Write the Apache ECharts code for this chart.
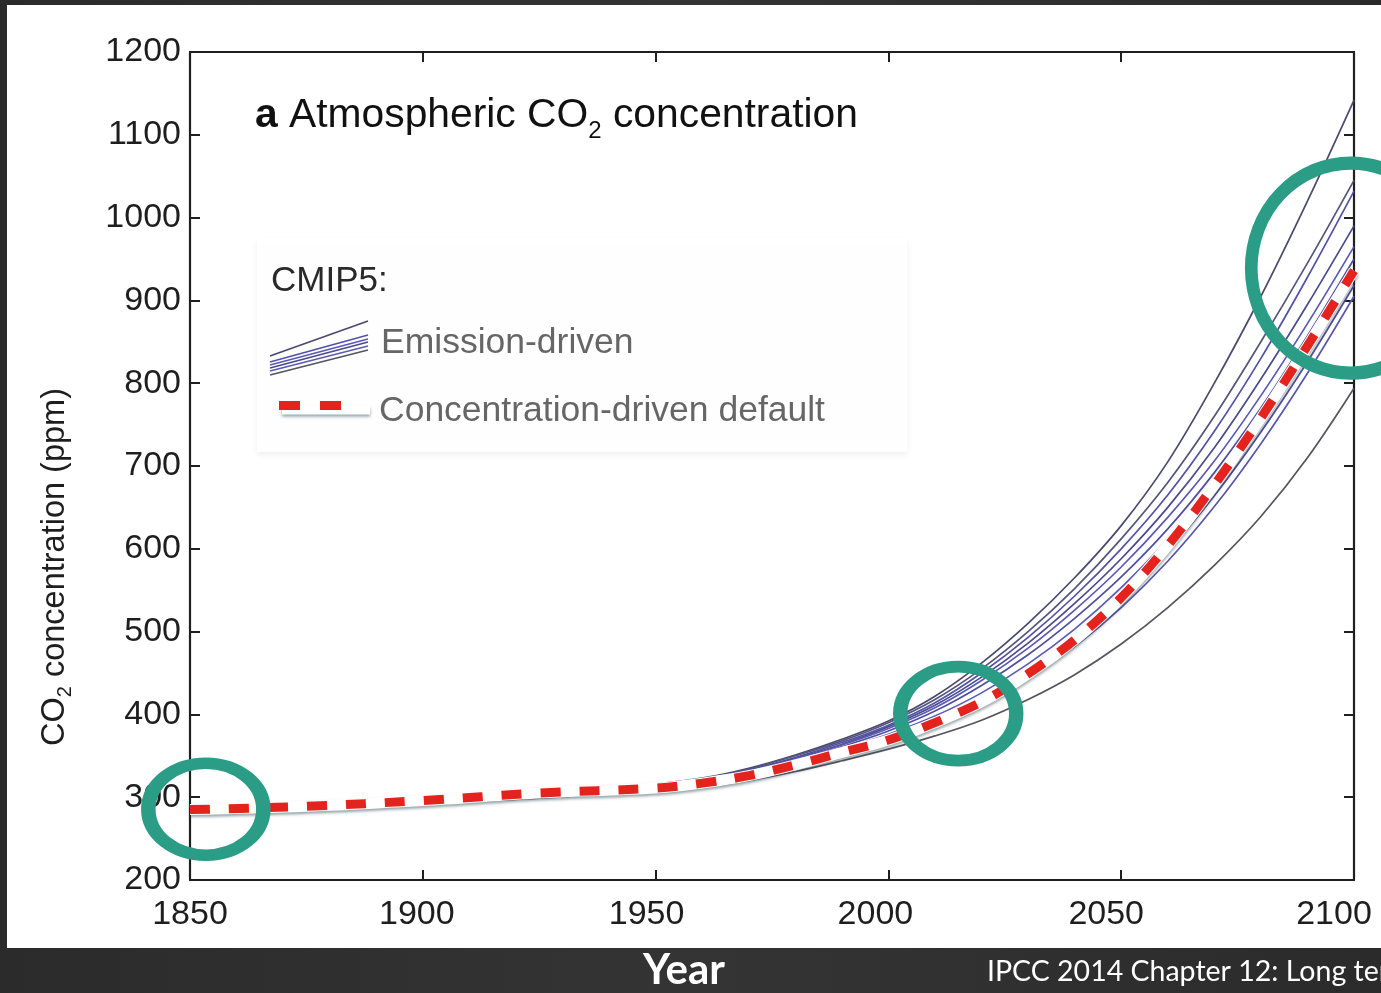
<!DOCTYPE html>
<html>
<head>
<meta charset="utf-8">
<title>Atmospheric CO2 concentration</title>
<script src="https://cdn.jsdelivr.net/npm/echarts@6/dist/echarts.min.js"></script>
<style>
  html, body { margin: 0; padding: 0; width: 1381px; height: 993px; overflow: hidden;
    background: linear-gradient(90deg, #2b2b2b, #343434 50%, #2b2b2b); }
  #panel { position: absolute; left: 7px; top: 5px; width: 1374px; height: 943px; background: #ffffff; }
  #chart { position: absolute; left: 0; top: 0; width: 1381px; height: 993px; }
</style>
</head>
<body>
<div id="panel"></div>
<div id="chart"></div>
<script>
// Years at which the curves are sampled
const years = [1850, 1875, 1900, 1925, 1950, 1960, 1970, 1980, 1990, 2000,
               2010, 2020, 2030, 2040, 2050, 2060, 2070, 2080, 2090, 2100];

// Concentration-driven default (ppm)
const concDefault = [285, 289, 296, 305, 311, 317, 326, 339, 354, 369,
                     390, 415, 449, 490, 541, 604, 677, 758, 845, 936];

// CMIP5 emission-driven model runs (ppm)
const emis01 = [284, 288, 294, 303, 316, 323, 335, 351, 370, 392, 422, 462, 510, 565, 628, 705, 800, 905, 1020, 1142];
const emis02 = [284, 288, 294, 303, 315, 322, 334, 350, 368, 390, 418, 455, 500, 552, 612, 680, 760, 850, 945, 1045];
const emis03 = [285, 289, 295, 304, 315, 322, 333, 348, 366, 387, 414, 450, 493, 543, 600, 665, 742, 830, 928, 1032];
const emis04 = [285, 289, 295, 304, 314, 321, 332, 347, 364, 385, 411, 445, 486, 534, 588, 650, 722, 805, 895, 990];
const emis05 = [285, 289, 295, 304, 314, 320, 331, 346, 363, 383, 408, 441, 480, 526, 578, 638, 706, 785, 872, 965];
const emis06 = [284, 288, 294, 303, 313, 319, 330, 344, 361, 380, 404, 435, 472, 516, 566, 624, 692, 770, 857, 950];
const emis07 = [284, 288, 294, 302, 312, 318, 328, 342, 358, 376, 398, 426, 461, 503, 553, 611, 678, 755, 840, 930];
const emis08 = [283, 287, 293, 301, 311, 317, 326, 340, 355, 371, 392, 418, 451, 492, 540, 597, 664, 741, 826, 918];
const emis09 = [283, 287, 292, 300, 309, 315, 324, 337, 352, 367, 386, 411, 443, 482, 529, 585, 651, 727, 812, 905];
const emis10 = [284, 287, 292, 299, 307, 312, 320, 331, 344, 358, 374, 393, 418, 448, 485, 529, 580, 639, 710, 794];
const emissionRuns = [emis01, emis02, emis03, emis04, emis05, emis06, emis07, emis08, emis09, emis10];

// Highlight rings: [year, ppm]
const ringYears = [1853.4, 2015.0, 2099.3];
const ringValues = [285.5, 401, 939];

// Axis ticks
const xTicks = [1850, 1900, 1950, 2000, 2050, 2100];
const yTicks = [200, 300, 400, 500, 600, 700, 800, 900, 1000, 1100, 1200];

const FONT = '"Liberation Sans", Arial, Helvetica, sans-serif';
const runColors = ['#4a4a6e', '#55557a', '#5252a8', '#4b4b8c', '#5a5ab4',
                   '#5050a0', '#5c5cb8', '#4e4e96', '#5858a8', '#55555f'];

const toPairs = (vals) => years.map((y, i) => [y, vals[i]]);

const series = emissionRuns.map((run, i) => ({
  type: 'line', data: toPairs(run), smooth: 0.35, showSymbol: false, silent: true,
  lineStyle: { color: runColors[i], width: 1.7 }, z: 3
}));

// white band under the red dashes
series.push({
  type: 'line', data: toPairs(concDefault), smooth: 0.35, showSymbol: false, silent: true,
  lineStyle: { color: '#ffffff', width: 11, shadowColor: 'rgba(40,70,80,0.5)', shadowBlur: 3, shadowOffsetY: 2 },
  z: 4
});
series.push({
  type: 'line', data: toPairs(concDefault), smooth: 0.35, showSymbol: false, silent: true,
  lineStyle: { color: '#e3231d', width: 9, type: [20, 19], cap: 'butt' },
  z: 5
});

// highlight rings
const ringSizes = [[115, 92], [116, 94], [199, 210]];
series.push({
  type: 'scatter', silent: true, z: 10,
  data: ringYears.map((y, i) => ({ value: [y, ringValues[i]], symbolSize: ringSizes[i] })),
  symbol: 'circle',
  itemStyle: { color: 'rgba(0,0,0,0)', borderColor: '#2b9c85', borderWidth: 13, opacity: 1 }
});

// per-label horizontal nudges of the year labels
const xLabelShift = { 1850: 0, 1900: 12, 1950: 18, 2000: 26, 2050: 30, 2100: 40 };
const xRich = {};
xTicks.forEach(t => {
  xRich['x' + t] = { fontSize: 34, fontFamily: FONT, color: '#1e1e1e', padding: [0, xLabelShift[t], 0, 0] };
});

const axisLineStyle = { color: '#1f1f1f', width: 2.2 };
const tickStyle = { show: true, inside: true, length: 10, lineStyle: { color: '#1f1f1f', width: 2 } };

const chart = echarts.init(document.getElementById('chart'), null, { renderer: 'canvas' });
chart.setOption({
  backgroundColor: 'transparent',
  animation: false,
  grid: { left: 190, right: 27, top: 52, bottom: 113, containLabel: false },
  xAxis: [
    {
      type: 'value', min: 1850, max: 2100, interval: 50, position: 'bottom',
      axisLine: { show: true, lineStyle: axisLineStyle },
      axisTick: tickStyle,
      splitLine: { show: false },
      axisLabel: {
        margin: 18, color: '#1e1e1e', fontSize: 34, fontFamily: FONT,
        formatter: v => '{x' + v + '|' + v + '}', rich: xRich
      }
    },
    {
      type: 'value', min: 1850, max: 2100, interval: 50, position: 'top',
      axisLine: { show: true, lineStyle: axisLineStyle },
      axisTick: tickStyle, axisLabel: { show: false }, splitLine: { show: false }
    }
  ],
  yAxis: [
    {
      type: 'value', min: 200, max: 1200, interval: 100, position: 'left',
      axisLine: { show: true, lineStyle: axisLineStyle },
      axisTick: tickStyle,
      splitLine: { show: false },
      axisLabel: { margin: 9, color: '#1e1e1e', fontSize: 34, fontFamily: FONT, formatter: v => String(v) }
    },
    {
      type: 'value', min: 200, max: 1200, interval: 100, position: 'right',
      axisLine: { show: true, lineStyle: axisLineStyle },
      axisTick: tickStyle, axisLabel: { show: false }, splitLine: { show: false }
    }
  ],
  series: series,
  graphic: [
    // y-axis title
    {
      type: 'text', x: 55, y: 567, rotation: Math.PI / 2, z: 20, silent: true,
      style: {
        text: 'CO{s|2} concentration (ppm)', align: 'center', verticalAlign: 'middle',
        fill: '#1e1e1e', font: '32.5px ' + FONT,
        rich: {
          s: { fontSize: 20, fontFamily: FONT, fill: '#1e1e1e', lineHeight: 40, padding: [20, 0, 0, 0] }
        }
      }
    },
    // panel title
    {
      type: 'text', left: 255, top: 89, z: 20, silent: true,
      style: {
        text: '{b|a} Atmospheric CO{s|2} concentration',
        fill: '#111', font: '40.8px ' + FONT,
        rich: {
          b: { fontWeight: 'bold', fontSize: 40.8, fontFamily: FONT, fill: '#111', lineHeight: 48 },
          s: { fontSize: 24, fontFamily: FONT, fill: '#111', lineHeight: 48, padding: [30, 0, 0, 0] }
        }
      }
    },
    // legend backdrop
    {
      type: 'rect', shape: { x: 257, y: 238, width: 650, height: 214 }, z: 1, silent: true,
      style: { fill: 'rgba(255,255,255,0.9)', shadowColor: 'rgba(0,0,0,0.07)', shadowBlur: 6, shadowOffsetY: 3 }
    },
    {
      type: 'text', left: 271, top: 264, z: 20, silent: true,
      style: { text: 'CMIP5:', fill: '#2a2a2a', font: '35px ' + FONT }
    },
    // emission-driven legend sample
    { type: 'line', z: 20, silent: true, shape: { x1: 270, y1: 356, x2: 368, y2: 321 }, style: { stroke: '#4a4a6e', lineWidth: 1.7 } },
    { type: 'line', z: 20, silent: true, shape: { x1: 270, y1: 362, x2: 368, y2: 335 }, style: { stroke: '#5252a8', lineWidth: 1.7 } },
    { type: 'line', z: 20, silent: true, shape: { x1: 270, y1: 365, x2: 368, y2: 339 }, style: { stroke: '#5a5ab4', lineWidth: 1.7 } },
    { type: 'line', z: 20, silent: true, shape: { x1: 270, y1: 368, x2: 368, y2: 342 }, style: { stroke: '#4b4b8c', lineWidth: 1.7 } },
    { type: 'line', z: 20, silent: true, shape: { x1: 270, y1: 371, x2: 368, y2: 346 }, style: { stroke: '#5c5cb8', lineWidth: 1.7 } },
    { type: 'line', z: 20, silent: true, shape: { x1: 270, y1: 375, x2: 368, y2: 350 }, style: { stroke: '#55555f', lineWidth: 1.7 } },
    {
      type: 'text', left: 381, top: 325, z: 20, silent: true,
      style: { text: 'Emission-driven', fill: '#666', font: '35.5px ' + FONT }
    },
    // concentration-driven legend sample
    { type: 'line', z: 20, silent: true, shape: { x1: 282, y1: 410, x2: 370, y2: 410 },
      style: { stroke: '#ffffff', lineWidth: 9, shadowColor: 'rgba(40,70,80,0.5)', shadowBlur: 3, shadowOffsetY: 2 } },
    { type: 'rect', z: 21, silent: true, shape: { x: 279, y: 401, width: 21, height: 9 }, style: { fill: '#e3231d' } },
    { type: 'rect', z: 21, silent: true, shape: { x: 320, y: 401, width: 21, height: 9 }, style: { fill: '#e3231d' } },
    {
      type: 'text', left: 379, top: 393, z: 20, silent: true,
      style: { text: 'Concentration-driven default', fill: '#666', font: '35.5px ' + FONT }
    },
    // footer
    {
      type: 'text', left: 643, top: 949, z: 20, silent: true,
      style: { text: 'Year', fill: '#ffffff', font: 'bold 42px Lato, "Open Sans", sans-serif' }
    },
    {
      type: 'text', left: 987, top: 957, z: 20, silent: true,
      style: { text: 'IPCC 2014 Chapter 12: Long term climate change', fill: '#ffffff', font: '28.5px Lato, "Open Sans", sans-serif' }
    }
  ]
});
</script>
</body>
</html>
